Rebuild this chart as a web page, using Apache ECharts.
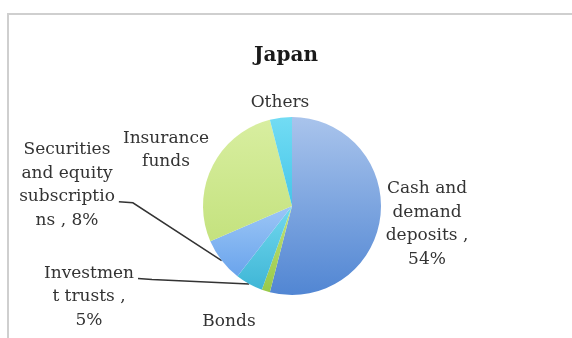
<!DOCTYPE html>
<html>
<head>
<meta charset="utf-8">
<script src="https://cdn.jsdelivr.net/npm/echarts@6/dist/echarts.min.js"></script>
<style>html,body{margin:0;padding:0;background:#fff}#c{width:572px;height:338px}</style>
</head>
<body>
<div id="c"></div>
<script>
var titleText = 'Japan';
var categories = ['Cash and demand deposits', 'Bonds', 'Investment trusts', 'Securities and equity subscriptions', 'Insurance funds', 'Others'];
var values = [54, 1.5, 5, 8, 27.5, 4];
var labelTexts = [
  'Cash and\ndemand\ndeposits ,\n54%',
  'Bonds',
  'Investmen\nt trusts ,\n5%',
  'Securities\nand equity\nsubscriptio\nns , 8%',
  'Insurance\nfunds',
  'Others'
];
var showLines = [false, false, true, true, false, false];
var lineRow = [0, 0, 0, 2, 0, 0];
var labelPos = [[427, 224], [229, 322], [89, 297], [67, 185], [166, 150], [280, 103]];

function grad(a, b) {
  return new echarts.graphic.LinearGradient(0, 0, 0, 1, [{offset: 0, color: a}, {offset: 1, color: b}]);
}
var colors = [
  grad('#a9c4ec', '#5186d3'),
  grad('#c2e27a', '#98c94a'),
  grad('#72d8ee', '#3fb6d6'),
  grad('#9cc6f6', '#6aa4ec'),
  grad('#d8eea0', '#c4e27e'),
  grad('#72dcf4', '#46c6e8')
];

var LH = 23.5;
var chart = echarts.init(document.getElementById('c'), null, {renderer: 'canvas'});
var fontFam = '"DejaVu Serif", "Liberation Serif", serif';
chart.setOption({
  backgroundColor: '#fff',
  animation: false,
  title: {
    text: titleText, left: 'center', top: 41,
    textStyle: {fontFamily: fontFam, fontSize: 20, fontWeight: 'bold', color: '#1a1a1a'}
  },
  graphic: [
    {type: 'line', shape: {x1: 7, y1: 14, x2: 572, y2: 14}, style: {stroke: '#cfcfcf', lineWidth: 2}},
    {type: 'line', shape: {x1: 8, y1: 14, x2: 8, y2: 338}, style: {stroke: '#cfcfcf', lineWidth: 2}}
  ],
  series: [{
    type: 'pie',
    center: [292, 206],
    radius: 89,
    startAngle: 90,
    clockwise: true,
    label: {
      show: true,
      fontFamily: fontFam,
      fontSize: 17,
      lineHeight: LH,
      color: '#333',
      align: 'center'
    },
    labelLine: {show: true, lineStyle: {color: '#333', width: 1.5}, length: 10, length2: 14},
    labelLayout: function (p) {
      var i = p.dataIndex;
      var pos = labelPos[i];
      var res = {x: pos[0], y: pos[1], align: 'center', verticalAlign: 'middle'};
      if (showLines[i] && p.labelLinePoints) {
        var w = p.labelRect.width, h = p.labelRect.height;
        var right = pos[0] + w / 2 + 4;
        var top = pos[1] - h / 2;
        var ry = top + LH * (lineRow[i] + 0.5) + 5;
        res.labelLinePoints = [p.labelLinePoints[0], [right + 14, ry + 1], [right, ry]];
      }
      return res;
    },
    data: categories.map(function (c, i) {
      return {
        name: c,
        value: values[i],
        itemStyle: {color: colors[i]},
        label: {formatter: labelTexts[i]},
        labelLine: {show: showLines[i]}
      };
    })
  }]
});
</script>
</body>
</html>
